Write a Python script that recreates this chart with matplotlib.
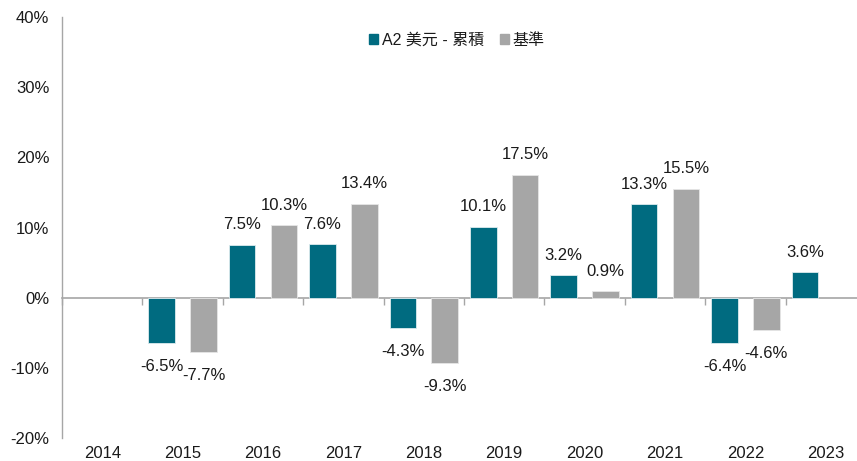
import numpy as np
import matplotlib
matplotlib.use("Agg")
import matplotlib.pyplot as plt
from matplotlib.patches import Patch

plt.rcParams['font.family'] = ['Liberation Sans', 'Noto Sans CJK TC', 'DejaVu Sans']

# data (annual returns, %)
years = ["2014", "2015", "2016", "2017", "2018", "2019", "2020", "2021", "2022", "2023"]
fund = [np.nan, -6.5, 7.5, 7.6, -4.3, 10.1, 3.2, 13.3, -6.4, 3.6]
bench = [np.nan, -7.7, 10.3, 13.4, -9.3, 17.5, 0.9, 15.5, -4.6, np.nan]
series_names = ["A2 美元 - 累積", "基準"]

teal = "#006B80"
grey = "#A6A6A6"
axis_col = "#A6A6A6"
txt = "#1A1A1A"
fs = 12

fig = plt.figure(figsize=(8.57, 4.61), dpi=100)
ax = fig.add_axes([62 / 857, 23 / 461, 804 / 857, 421 / 461])

x = np.arange(len(years))
w = 0.33
off = 0.26
ax.bar(x - off, fund, w, color=teal, edgecolor="#DDEBEE", linewidth=0.6)
ax.bar(x + off, bench, w, color=grey, edgecolor="#E6E6E6", linewidth=0.6)

# value labels
for xs, vals in ((x - off, fund), (x + off, bench)):
    for xi, v in zip(xs, vals):
        if np.isnan(v):
            continue
        dy = 14.5 if v >= 0 else -17
        ax.annotate(f"{v:.1f}%", (xi, v), xytext=(0, dy), textcoords="offset points",
                    ha="center", va="center", fontsize=fs, color=txt)

ax.set_xlim(-0.5, len(years) - 0.5)
ax.set_ylim(-20, 40)
ax.set_yticks(np.arange(-20, 41, 10))
ax.set_yticklabels([f"{t}%" for t in range(-20, 41, 10)], fontsize=fs, color=txt)
ax.tick_params(axis="y", length=0, pad=9)

ax.set_xticks(x)
ax.set_xticklabels(years, fontsize=fs, color=txt)
ax.tick_params(axis="x", length=0, pad=6)

for s in ["top", "right", "bottom"]:
    ax.spines[s].set_visible(False)
ax.spines["left"].set_color(axis_col)
ax.spines["left"].set_linewidth(1.0)

# zero line with category tick marks
zero = ax.secondary_xaxis(0, transform=ax.transData)
zero.set_xticks(np.arange(-0.5, len(years), 1.0))
zero.set_xticklabels([])
zero.tick_params(axis="x", length=5, color=axis_col, width=1.0, direction="out")
zero.spines["bottom"].set_color(axis_col)
zero.spines["bottom"].set_linewidth(1.2)

handles = [Patch(color=teal), Patch(color=grey)]
ax.legend(handles, series_names, loc="center", bbox_to_anchor=(0.491, 0.945), ncol=2,
          frameon=False, fontsize=11.5, handlelength=0.6, handleheight=0.6,
          handletextpad=0.2, columnspacing=1.0, labelcolor=txt)

fig.savefig("out.png", dpi=100)
